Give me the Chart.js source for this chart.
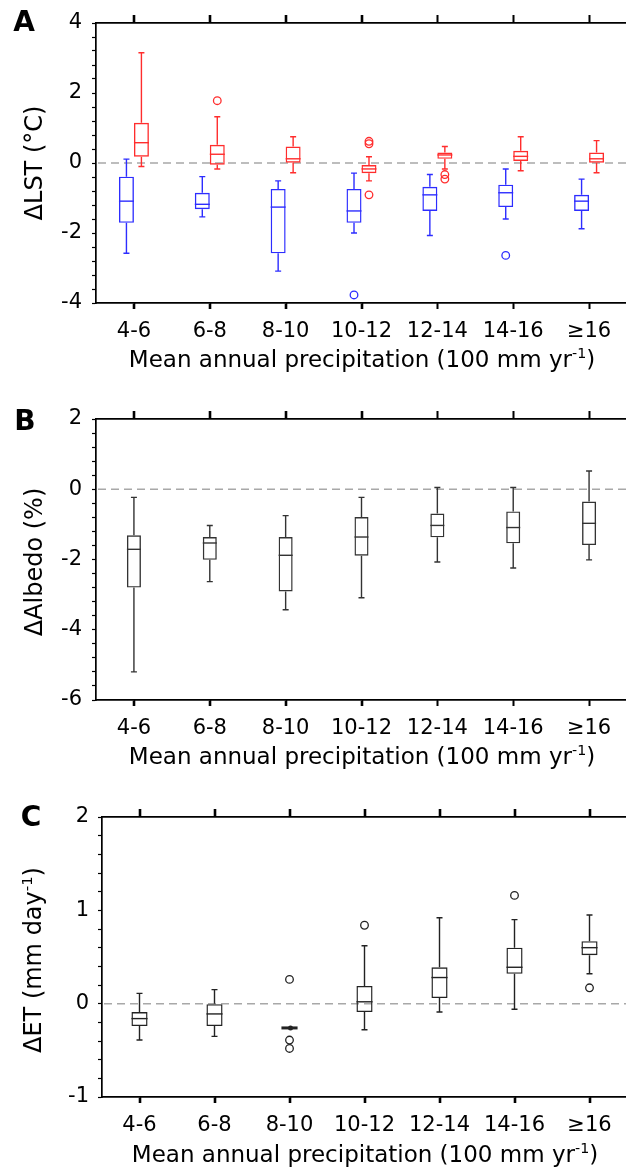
<!DOCTYPE html>
<html>
<head>
<meta charset="utf-8">
<script src="https://cdn.jsdelivr.net/npm/chart.js@4.4.1/dist/chart.umd.min.js"></script>
<style>
  html, body { margin: 0; padding: 0; background: #fff; overflow: hidden; width: 626px; height: 1174px; }
  body { position: relative; font-family: "DejaVu Sans", sans-serif; color: #000; }
  canvas { position: absolute; left: 0; }
  .txt { position: absolute; white-space: nowrap; line-height: 1; transform: translate(-50%, -50%); }
  .letter { font-weight: bold; font-size: 28px; }
  .xtitle { font-size: 23px; }
  .ytitle { font-size: 24px; transform: translate(-50%, -50%) rotate(-90deg); }
  sup { font-size: 62%; vertical-align: 0; position: relative; top: -0.6em; }
</style>
</head>
<body>
<canvas id="chartA" width="640" height="380" style="top:0px"></canvas>
<canvas id="chartB" width="640" height="385" style="top:390px"></canvas>
<canvas id="chartC" width="640" height="389" style="top:785px"></canvas>

<div class="txt letter" style="left:24px;top:22px">A</div>
<div class="txt letter" style="left:25px;top:421px">B</div>
<div class="txt letter" style="left:31px;top:817px">C</div>

<div class="txt ytitle" style="left:34px;top:163px">ΔLST (°C)</div>
<div class="txt ytitle" style="left:34px;top:562px">ΔAlbedo (%)</div>
<div class="txt ytitle" style="left:33px;top:960px">ΔET (mm day<sup>-1</sup>)</div>

<div class="txt xtitle" style="left:362px;top:359px">Mean annual precipitation (100 mm yr<sup>-1</sup>)</div>
<div class="txt xtitle" style="left:362px;top:756px">Mean annual precipitation (100 mm yr<sup>-1</sup>)</div>
<div class="txt xtitle" style="left:365px;top:1154px">Mean annual precipitation (100 mm yr<sup>-1</sup>)</div>

<script>
// Precipitation classes
const categories = ['4-6', '6-8', '8-10', '10-12', '12-14', '14-16', '≥16'];

// Box stats per class: [lower whisker, Q1, median, Q3, upper whisker]
const lstBlue = [
  [-2.58, -1.71, -1.09, -0.39, 0.11],
  [-1.54, -1.32, -1.18, -0.85, -0.39],
  [-3.09, -2.58, -1.26, -0.74, -0.51],
  [-2.00, -1.71, -1.37, -0.74, -0.29],
  [-2.07, -1.37, -0.91, -0.68, -0.33],
  [-1.60, -1.26, -0.85, -0.62, -0.17],
  [-1.88, -1.37, -1.09, -0.91, -0.46]
];
const lstBlueOutliers = [[], [], [], [-3.77], [], [-2.64], []];

const lstRed = [
  [-0.10, 0.18, 0.58, 1.15, 3.15],
  [-0.17, -0.05, 0.25, 0.52, 1.32],
  [-0.28, 0.01, 0.12, 0.47, 0.75],
  [-0.51, -0.29, -0.17, -0.06, 0.18],
  [-0.17, 0.12, 0.23, 0.30, 0.47],
  [-0.22, 0.06, 0.19, 0.35, 0.75],
  [-0.28, 0.01, 0.12, 0.30, 0.64]
];
const lstRedOutliers = [[], [1.78], [], [0.62, 0.55, -0.91], [-0.33, -0.46], [], []];

const albedo = [
  [-5.20, -2.80, -1.71, -1.31, -0.23],
  [-2.63, -2.01, -1.53, -1.36, -1.03],
  [-3.43, -2.91, -1.88, -1.36, -0.75],
  [-3.09, -1.89, -1.36, -0.79, -0.23],
  [-2.07, -1.37, -1.03, -0.69, 0.05],
  [-2.24, -1.54, -1.09, -0.63, 0.05],
  [-2.01, -1.59, -0.97, -0.35, 0.52]
];
const albedoOutliers = [[], [], [], [], [], [], []];

const et = [
  [-0.39, -0.24, -0.16, -0.09, 0.11],
  [-0.35, -0.24, -0.11, 0.00, 0.15],
  [-0.26, -0.26, -0.26, -0.26, -0.26],
  [-0.28, -0.09, 0.02, 0.19, 0.62],
  [-0.09, 0.06, 0.28, 0.39, 0.92],
  [-0.06, 0.32, 0.39, 0.60, 0.90],
  [0.32, 0.52, 0.60, 0.67, 0.95]
];
const etOutliers = [[], [], [0.26, -0.39, -0.48], [0.84], [], [1.16], [0.17]];

// Dashed zero line + whiskers, medians and outliers on top of the bar boxes
const boxPlugin = {
  id: 'boxWhiskers',
  beforeDatasetsDraw(chart) {
    const { ctx, chartArea, scales: { y } } = chart;
    const y0 = y.getPixelForValue(0);
    ctx.save();
    ctx.strokeStyle = '#a8a8a8';
    ctx.lineWidth = 1.5;
    ctx.setLineDash([8, 5]);
    ctx.beginPath();
    ctx.moveTo(chartArea.left + 2, y0);
    ctx.lineTo(chartArea.right, y0);
    ctx.stroke();
    ctx.restore();
  },
  afterDatasetsDraw(chart) {
    const { ctx, scales: { y } } = chart;
    chart.data.datasets.forEach((ds, i) => {
      const meta = chart.getDatasetMeta(i);
      meta.data.forEach((bar, j) => {
        const s = ds.stats[j];
        const x = bar.x, half = bar.width / 2, cap = 3;
        ctx.save();
        ctx.strokeStyle = ds.borderColor;
        ctx.lineWidth = 1.4;
        ctx.beginPath();
        // upper whisker
        ctx.moveTo(x, y.getPixelForValue(s[3]));
        ctx.lineTo(x, y.getPixelForValue(s[4]));
        ctx.moveTo(x - cap, y.getPixelForValue(s[4]));
        ctx.lineTo(x + cap, y.getPixelForValue(s[4]));
        // lower whisker
        ctx.moveTo(x, y.getPixelForValue(s[1]));
        ctx.lineTo(x, y.getPixelForValue(s[0]));
        ctx.moveTo(x - cap, y.getPixelForValue(s[0]));
        ctx.lineTo(x + cap, y.getPixelForValue(s[0]));
        ctx.stroke();
        // median (a collapsed box is drawn as a thick bar)
        ctx.lineWidth = s[1] === s[3] ? 3 : 1.4;
        ctx.beginPath();
        ctx.moveTo(x - half, y.getPixelForValue(s[2]));
        ctx.lineTo(x + half, y.getPixelForValue(s[2]));
        ctx.stroke();
        if (s[1] === s[3]) {
          ctx.fillStyle = ds.borderColor;
          ctx.beginPath();
          ctx.arc(x + 1, y.getPixelForValue(s[2]), 2.5, 0, Math.PI * 2);
          ctx.fill();
        }
        // outliers
        ctx.lineWidth = 1.3;
        ds.outliers[j].forEach(v => {
          ctx.beginPath();
          ctx.arc(x, y.getPixelForValue(v), 3.8, 0, Math.PI * 2);
          ctx.stroke();
        });
        ctx.restore();
      });
    });
  },
  afterDraw(chart) {
    // category tick marks outside the top and bottom frame lines
    const { ctx, chartArea, scales: { x } } = chart;
    ctx.save();
    ctx.strokeStyle = '#000';
    ctx.lineWidth = 1.6;
    ctx.beginPath();
    categories.forEach((c, i) => {
      const px = Math.round(x.getPixelForTick(i)) + 0.5;
      ctx.moveTo(px, chartArea.top - 8);
      ctx.lineTo(px, chartArea.top);
      ctx.moveTo(px, chartArea.bottom);
      ctx.lineTo(px, chartArea.bottom + 6);
    });
    ctx.stroke();
    ctx.restore();
  }
};

function boxDataset(stats, outliers, color, catPct) {
  return {
    data: stats.map(s => [s[1], s[3]]),
    stats: stats,
    outliers: outliers,
    backgroundColor: 'rgba(0,0,0,0)',
    borderColor: color,
    borderWidth: 1.4,
    borderSkipped: false,
    barPercentage: 1,
    categoryPercentage: catPct
  };
}

function makePanel(id, datasets, p) {
  const tickFont = { family: 'DejaVu Sans', size: 21 };
  const config = {
    type: 'bar',
    data: { labels: categories, datasets: datasets },
    options: {
      responsive: false,
      animation: false,
      devicePixelRatio: 1,
      layout: { padding: { top: p.padTop, right: 13, left: 0, bottom: 0 } },
      plugins: { legend: { display: false }, tooltip: { enabled: false } },
      scales: {
        x: {
          offset: true,
          grid: { drawOnChartArea: false, offset: false, tickLength: 6, tickColor: '#000', tickWidth: 1.6 },
          border: { color: '#000', width: 1.7 },
          ticks: { color: '#000', font: tickFont, padding: 10, autoSkip: false, maxRotation: 0 },
          afterFit: s => { s.height = p.xHeight; }
        },
        x2: {
          type: 'category',
          labels: categories,
          position: 'top',
          offset: true,
          grid: { drawOnChartArea: false, offset: false, tickLength: 8, tickColor: '#000', tickWidth: 1.6 },
          border: { color: '#000', width: 1.7 },
          ticks: { display: false },
          afterFit: s => { s.height = 8; }
        },
        y: {
          min: p.min,
          max: p.max,
          grid: { drawOnChartArea: false, tickLength: 4, tickColor: '#000', tickWidth: 1.2 },
          border: { color: '#000', width: 1.7 },
          ticks: {
            stepSize: p.step,
            autoSkip: false,
            color: '#000',
            font: tickFont,
            padding: p.yPad,
            callback: v => {
              const r = v / p.major;
              return Math.abs(r - Math.round(r)) < 1e-6 ? String(Math.round(v)) : '';
            }
          },
          afterFit: s => { s.width = p.yWidth; }
        }
      }
    },
    plugins: [boxPlugin]
  };
  return new Chart(document.getElementById(id).getContext('2d'), config);
}

// Panel A: LST, two series per class
makePanel('chartA', [
  boxDataset(lstBlue, lstBlueOutliers, 'rgb(45,45,255)', 0.395),
  boxDataset(lstRed, lstRedOutliers, 'rgb(255,45,45)', 0.395)
], { min: -4, max: 4, step: 0.4, major: 2, padTop: 15, xHeight: 77, yWidth: 96, yPad: 10 });

// Panel B: albedo
makePanel('chartB', [
  boxDataset(albedo, albedoOutliers, '#333', 0.185)
], { min: -6, max: 2, step: 0.4, major: 2, padTop: 21, xHeight: 75, yWidth: 96, yPad: 10 });

// Panel C: ET
makePanel('chartC', [
  boxDataset(et, etOutliers, '#222', 0.215)
], { min: -1, max: 2, step: 0.2, major: 1, padTop: 24, xHeight: 77, yWidth: 102, yPad: 9 });
</script>
</body>
</html>
